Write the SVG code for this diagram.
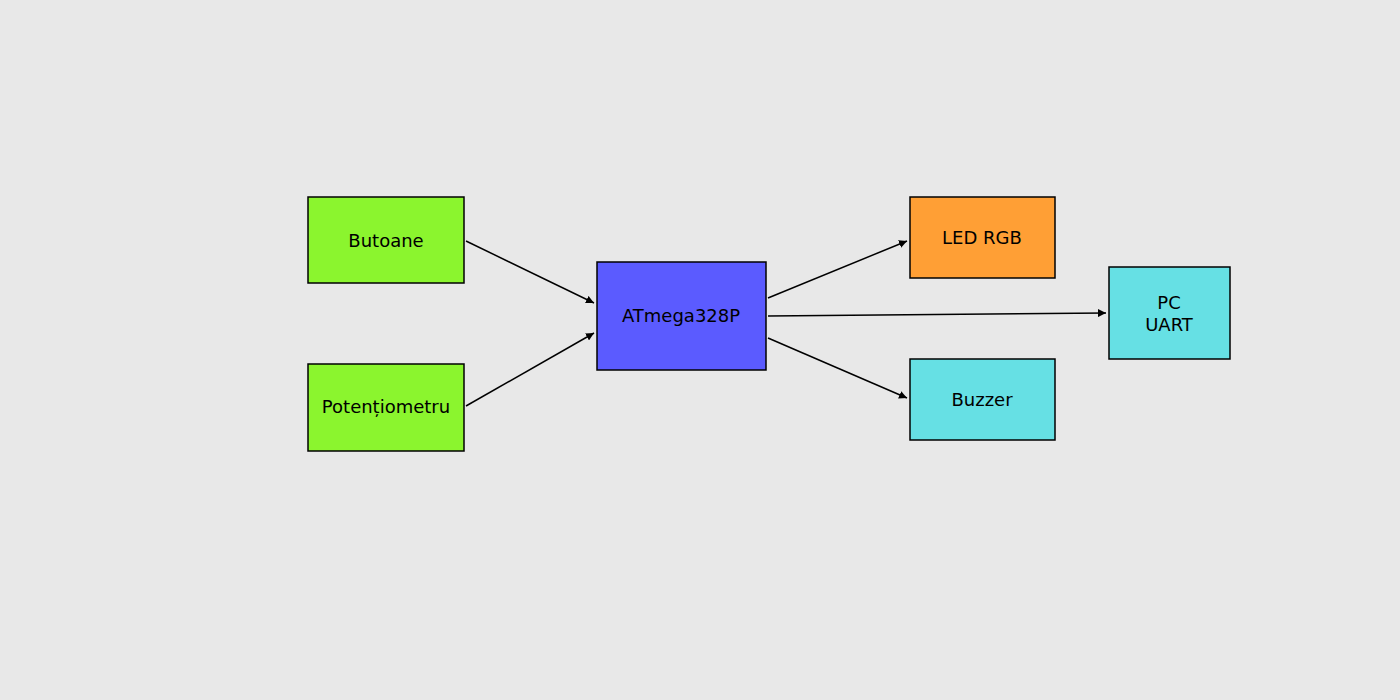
<svg xmlns="http://www.w3.org/2000/svg" width="1400" height="700" viewBox="0 0 1400 700">
<style>
rect.n{stroke:#000;stroke-width:1.5}
text{font-family:"DejaVu Sans",sans-serif;font-size:18px;fill:#000;text-anchor:middle;dominant-baseline:central}
.c line{stroke:#000;stroke-width:1.5;marker-end:url(#a)}
</style>
<defs><marker id="a" viewBox="0 0 10 10" refX="10" refY="5" markerWidth="8" markerHeight="8" markerUnits="userSpaceOnUse" orient="auto"><path d="M0,0L10,5L0,10z" fill="#000"/></marker></defs>
<rect width="1400" height="700" fill="#E8E8E8"/>
<g id="butoane"><rect class="n" x="308" y="197" width="156" height="86" fill="#8BF52E"/><text x="386" y="240">Butoane</text></g>
<g id="pot"><rect class="n" x="308" y="364" width="156" height="87" fill="#8BF52E"/><text x="386" y="406">Potențiometru</text></g>
<g id="mcu"><rect class="n" x="597" y="262" width="169" height="108" fill="#5B5BFF"/><text x="681" y="315">ATmega328P</text></g>
<g id="led"><rect class="n" x="910" y="197" width="145" height="81" fill="#FF9F35"/><text x="982" y="237">LED RGB</text></g>
<g id="buzzer"><rect class="n" x="910" y="359" width="145" height="81" fill="#66E0E4"/><text x="982" y="399">Buzzer</text></g>
<g id="pc"><rect class="n" x="1109" y="267" width="121" height="92" fill="#66E0E4"/><text x="1169" y="302">PC</text><text x="1169" y="324">UART</text></g>
<g class="c">
<line x1="466" y1="241" x2="594" y2="303"/>
<line x1="466" y1="406" x2="594" y2="333"/>
<line x1="768" y1="298" x2="907" y2="241"/>
<line x1="768" y1="316" x2="1106" y2="313"/>
<line x1="768" y1="338" x2="907" y2="398"/>
</g>
</svg>
